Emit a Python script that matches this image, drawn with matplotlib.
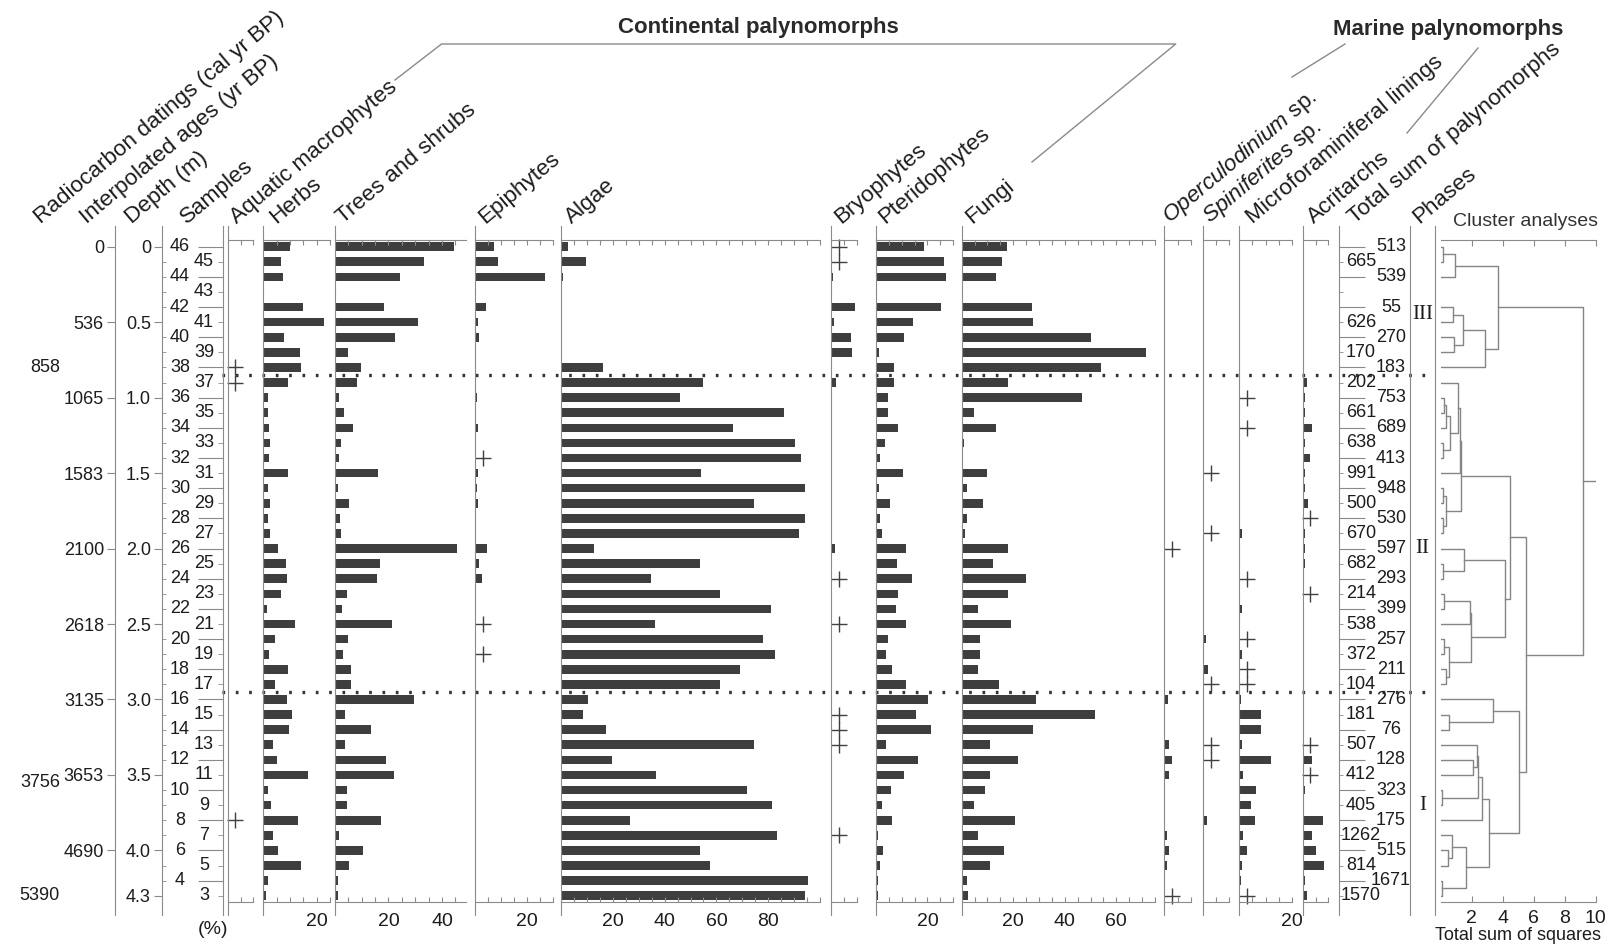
import numpy as np
import matplotlib.pyplot as plt
from matplotlib.lines import Line2D
from matplotlib import transforms

plt.rcParams['font.family'] = ['Liberation Sans', 'DejaVu Sans']
plt.rcParams['mathtext.fontset'] = 'custom'
plt.rcParams['mathtext.it'] = 'Liberation Sans:italic'
plt.rcParams['mathtext.rm'] = 'Liberation Sans'

nan = np.nan

# core samples (top to bottom) and their depths in m
samples = [46, 45, 44, 43, 42, 41, 40, 39, 38, 37, 36, 35, 34, 33, 32, 31, 30, 29, 28, 27, 26,
           25, 24, 23, 22, 21, 20, 19, 18, 17, 16, 15, 14, 13, 12, 11, 10, 9, 8, 7, 6, 5, 4, 3]
depths = [0.0, 0.1, 0.2, 0.3, 0.4, 0.5, 0.6, 0.7, 0.8, 0.9, 1.0, 1.1, 1.2, 1.3, 1.4, 1.5, 1.6,
          1.7, 1.8, 1.9, 2.0, 2.1, 2.2, 2.3, 2.4, 2.5, 2.6, 2.7, 2.8, 2.9, 3.0, 3.1, 3.2, 3.3,
          3.4, 3.5, 3.6, 3.7, 3.8, 3.9, 4.0, 4.1, 4.2, 4.3]

# chronology
age_depths = [0.0, 0.5, 1.0, 1.5, 2.0, 2.5, 3.0, 3.5, 4.0]
age_labels = ['0', '536', '1065', '1583', '2100', '2618', '3135', '3653', '4690']
c14_depths = [0.8, 3.55, 4.3]
c14_labels = ['858', '3756', '5390']
depth_ticks = [0.0, 0.5, 1.0, 1.5, 2.0, 2.5, 3.0, 3.5, 4.0, 4.3]
depth_labels = ['0', '0.5', '1.0', '1.5', '2.0', '2.5', '3.0', '3.5', '4.0', '4.3']

# percentages per sample (46 -> 3); sample 43 was not counted
aquatic = [0, 0, 0, nan, 0, 0, 0, 0, 0,
           0, 0, 0, 0, 0, 0, 0, 0, 0, 0, 0, 0,
           0, 0, 0, 0, 0, 0, 0, 0, 0,
           0, 0, 0, 0, 0, 0, 0, 0, 0, 0, 0, 0, 0, 0]
herbs = [10.1, 6.5, 7.3, nan, 14.8, 22.8, 7.7, 13.9, 14.3,
         9.2, 1.6, 1.6, 2.0, 2.5, 2.2, 9.2, 1.6, 2.5, 1.6, 2.5, 5.4,
         8.4, 8.7, 6.5, 1.3, 12.0, 4.2, 2.3, 9.2, 4.2,
         8.7, 10.6, 9.7, 3.7, 5.1, 16.7, 1.8, 2.8, 13.0, 3.7, 5.4, 14.3, 1.6, 1.0]
trees = [44.6, 33.4, 24.2, nan, 18.5, 31.1, 22.3, 4.9, 9.6,
         8.2, 1.6, 3.5, 6.8, 2.4, 1.4, 16.1, 1.1, 5.4, 1.9, 2.4, 45.6,
         16.7, 15.7, 4.4, 2.7, 21.3, 4.9, 3.0, 5.8, 5.8,
         29.7, 3.9, 13.3, 3.9, 19.0, 22.2, 4.4, 4.4, 17.1, 1.6, 10.5, 5.4, 1.1, 1.1]
epiphytes = [7.4, 8.8, 27.2, nan, 4.1, 1.3, 1.7, 0, 0,
             0, 0.6, 0, 1.0, 0, 0, 1.2, 0.6, 1.0, 0, 0, 4.5,
             1.7, 2.6, 0, 0, 0, 0, 0, 0, 0,
             0, 0, 0, 0, 0, 0, 0, 0, 0, 0, 0, 0, 0, 0]
algae = [2.6, 9.6, 0.6, nan, 0, 0.5, 0, 0, 16.3,
         55.0, 46.0, 86.2, 66.3, 90.4, 92.8, 54.1, 94.2, 74.7, 94.2, 91.8, 12.9,
         53.5, 34.6, 61.5, 81.0, 36.2, 78.1, 82.8, 69.1, 61.5,
         10.5, 8.6, 17.2, 74.7, 19.5, 36.5, 71.9, 81.4, 26.5, 83.3, 53.5, 57.7, 95.5, 94.1]
bryophytes = [0, 0, 0.9, nan, 9.2, 1.2, 7.7, 8.2, 0,
              1.9, 0, 0, 0, 0, 0, 0.4, 0, 0, 0, 0, 1.4,
              0, 0, 0, 0, 0, 0, 0, 0, 0,
              0, 0, 0, 0, 0, 0, 0, 0, 0, 0, 0, 0, 0, 0]
pteridophytes = [18.5, 26.4, 27.3, nan, 25.4, 14.5, 10.8, 1.3, 6.9,
                 6.9, 4.6, 4.6, 8.8, 3.6, 1.7, 10.4, 1.3, 5.5, 1.8, 2.3, 11.7,
                 8.3, 14.0, 8.7, 7.8, 11.7, 4.6, 4.1, 6.4, 11.7,
                 20.3, 15.4, 21.2, 4.1, 16.4, 10.8, 6.0, 2.3, 6.4, 0.8, 2.7, 1.7, 0.8, 0.8]
fungi = [17.4, 15.5, 13.5, nan, 27.4, 27.7, 50.3, 71.6, 53.9,
         17.8, 46.8, 4.9, 13.5, 1.0, 0.6, 9.7, 1.9, 8.1, 1.9, 1.4, 17.8,
         12.1, 24.9, 17.8, 6.5, 19.1, 7.2, 7.2, 6.5, 14.5,
         29.0, 51.9, 27.7, 11.0, 21.9, 11.0, 9.2, 4.9, 20.6, 6.5, 16.3, 11.0, 2.1, 2.5]
operculodinium = [0, 0, 0, nan, 0, 0, 0, 0, 0,
                  0, 0, 0, 0, 0, 0, 0, 0, 0, 0, 0, 0,
                  0, 0, 0, 0, 0, 0, 0, 0, 0,
                  1.3, 0, 0, 1.8, 2.8, 1.8, 0, 0, 0, 0.9, 1.8, 0.9, 0, 0]
spiniferites = [0, 0, 0, nan, 0, 0, 0, 0, 0,
                0, 0, 0, 0, 0, 0, 0, 0, 0, 0, 0, 0,
                0, 0, 0, 0, 0, 1.3, 0, 2.2, 0,
                0, 0, 0, 0, 0, 0, 0, 0.6, 1.8, 0.3, 0.6, 0.6, 0, 0]
microforams = [0, 0, 0, nan, 0, 0, 0, 0, 0,
               0, 0, 0, 0, 0, 0, 0, 0, 0, 0, 0.9, 0,
               0, 0, 0, 0.9, 0, 0, 0.9, 0, 0,
               0.6, 8.1, 8.1, 1.1, 12.0, 1.5, 6.4, 4.5, 6.0, 1.3, 3.0, 1.1, 0.6, 0]
acritarchs = [0, 0, 0, nan, 0, 0, 0, 0, 0,
              1.8, 0.9, 0.9, 3.8, 0.8, 2.8, 0.8, 0.8, 2.2, 0, 0.8, 0.8,
              0.9, 0, 0, 0, 0, 0, 0, 0, 0,
              0, 0, 0, 0, 3.8, 0, 0.9, 0, 7.8, 3.7, 5.1, 8.2, 0.8, 1.8]

# samples where a taxon is present at < 0.5 %
aquatic_plus = [38, 37, 8]
epiphytes_plus = [32, 21, 19]
bryophytes_plus = [46, 45, 24, 21, 15, 14, 13, 7]
operculodinium_plus = [26, 3]
spiniferites_plus = [31, 27, 17, 13, 12]
microforams_plus = [36, 34, 24, 20, 18, 17, 3]
acritarchs_plus = [28, 23, 13, 11]

totals = [513, 665, 539, None, 55, 626, 270, 170, 183,
          202, 753, 661, 689, 638, 413, 991, 948, 500, 530, 670, 597,
          682, 293, 214, 399, 538, 257, 372, 211, 104,
          276, 181, 76, 507, 128, 412, 323, 405, 175, 1262, 515, 814, 1671, 1570]

zone_bounds = [0.85, 2.95]
phase_names = ['III', 'II', 'I']
phase_depths = [0.45, 2.0, 3.7]

# CONISS merges: (node, member a, member b, total sum of squares)
cluster_merges = [
    ('m1', 46, 45, 0.1), ('m2', 'm1', 44, 0.93), ('m3', 42, 41, 0.76), ('m4', 40, 39, 0.87),
    ('m5', 'm3', 'm4', 1.4), ('m6', 'm5', 38, 2.87), ('m7', 'm2', 'm6', 3.7),
    ('b1', 36, 35, 0.2), ('b2', 'b1', 34, 0.35), ('b3', 33, 32, 0.15), ('b4', 'b2', 'b3', 0.6),
    ('b5', 37, 'b4', 1.1), ('b6', 'b5', 31, 1.25), ('b7', 30, 29, 0.1), ('b8', 28, 27, 0.15),
    ('b9', 'b7', 'b8', 0.3), ('b10', 'b6', 'b9', 1.3),
    ('a1', 25, 24, 0.1), ('a2', 26, 'a1', 1.52), ('a3', 23, 22, 0.2), ('a4', 'a3', 21, 1.85),
    ('a5', 20, 19, 0.2), ('a6', 18, 17, 0.3), ('a7', 'a5', 'a6', 0.5), ('a8', 'a4', 'a7', 1.95),
    ('a9', 'a2', 'a8', 4.13), ('a10', 'b10', 'a9', 4.45),
    ('c1', 15, 14, 0.55), ('c2', 16, 'c1', 3.37), ('c3', 12, 11, 2.1), ('c4', 13, 'c3', 2.33),
    ('c5', 10, 9, 0.05), ('c6', 'c4', 'c5', 2.4), ('c7', 'c6', 8, 2.65), ('c8', 6, 5, 0.45),
    ('c9', 7, 'c8', 0.7), ('c10', 4, 3, 0.05), ('c11', 'c9', 'c10', 1.63), ('c12', 'c7', 'c11', 3.1),
    ('c13', 'c2', 'c12', 5.07), ('d1', 'a10', 'c13', 5.5), ('root', 'm7', 'd1', 9.17),
]

# ---- layout (pixels) ----
W, H = 1610, 952
Y_TOP, Y_BOT = 240, 901.7          # top / bottom scale lines
Y0, PPM = 246.7, 150.93            # pixel row of depth 0, pixels per metre
D_TOP = (Y_TOP - Y0) / PPM
D_BOT = (Y_BOT - Y0) / PPM
L_TOP = (226 - Y0) / PPM           # vertical rules run a bit past the scales
L_BOT = (915 - Y0) / PPM
BAR = '#3e3e3e'
AXC = '#8a8a8a'
TXT = '#1c1c1c'
DENDRO = '#858585'

fig = plt.figure(figsize=(W / 100, H / 100), dpi=100)


def fx(x):
    return x / W


def fy(y):
    return 1 - y / H


def col_axes(x0, x1):
    ax = fig.add_axes([x0 / W, 1 - Y_BOT / H, (x1 - x0) / W, (Y_BOT - Y_TOP) / H])
    ax.patch.set_visible(False)
    ax.set_ylim(D_BOT, D_TOP)
    for s in ax.spines.values():
        s.set_visible(False)
        s.set_color(AXC)
    ax.set_xticks([])
    ax.set_yticks([])
    return ax


def pollen(x0, x1, xmax, values, plus=()):
    ax = col_axes(x0, x1)
    ax.set_xlim(0, xmax)
    v = np.array(values, dtype=float)
    d = np.array(depths)
    keep = np.nan_to_num(v) > 0
    ax.barh(d[keep], v[keep], height=0.057, color=BAR, linewidth=0)
    if plus:
        pd_ = [depths[samples.index(s)] for s in plus]
        ax.plot([3] * len(pd_), pd_, ls='none', marker='+', ms=11, mew=1.0,
                color='#404040', clip_on=False)
    for s in ('left', 'top', 'bottom'):
        ax.spines[s].set_visible(True)
    ax.spines['left'].set_bounds(L_BOT, L_TOP)
    ticks = np.arange(5, xmax + 0.1, 5)
    ax.set_xticks(ticks)
    ax.set_xticklabels([str(int(t)) if t in (20, 40, 60, 80) else '' for t in ticks])
    ax.tick_params(axis='x', top=True, bottom=True, direction='in', length=3.5,
                   width=0.8, color=AXC, labelsize=14, pad=8, labelcolor=TXT)
    return ax


# zone boundaries across the whole diagram
zax = col_axes(222, 1435)
zax.set_xlim(0, 1)
zax.hlines(zone_bounds, 0, 1, colors='#333333', linestyles=(0, (0.8, 3.2)), linewidth=2.4)

# interpolated ages
ax = col_axes(115, 125)
ax.spines['left'].set_visible(True)
ax.spines['left'].set_bounds(L_BOT, L_TOP)
ax.set_yticks(age_depths)
ax.set_yticklabels(age_labels)
ax.tick_params(axis='y', direction='out', length=6, color=AXC, labelsize=13, pad=2,
               labelcolor=TXT)

# radiocarbon dates, right-aligned in their own column
c14_tr = transforms.blended_transform_factory(fig.transFigure, ax.transData)
for dd, lab in zip(c14_depths, c14_labels):
    fig.text(fx(60), dd, lab, transform=c14_tr, ha='right', va='center', fontsize=13,
             color=TXT)

# depth scale
ax = col_axes(162, 170)
ax.spines['left'].set_visible(True)
ax.spines['left'].set_bounds(L_BOT, L_TOP)
ax.set_yticks(depth_ticks)
ax.set_yticklabels(depth_labels)
ax.set_yticks(depths, minor=True)
ax.tick_params(axis='y', which='major', direction='out', length=6, color=AXC,
               labelsize=13, pad=2, labelcolor=TXT)
ax.tick_params(axis='y', which='minor', direction='in', length=3, color=AXC)

# sample numbers
sax = col_axes(160, 223.3)
sax.set_xlim(160, 223.3)
sax.spines['right'].set_visible(True)
sax.spines['right'].set_bounds(L_BOT, L_TOP)
sax.yaxis.set_ticks_position('right')
even = [d for s, d in zip(samples, depths) if s % 2 == 0]
odd = [d for s, d in zip(samples, depths) if s % 2 == 1]
sax.set_yticks(even)
sax.set_yticks(odd, minor=True)
sax.tick_params(axis='y', which='major', direction='in', length=18, color=AXC,
                labelright=False)
sax.tick_params(axis='y', which='minor', direction='in', length=3.5, color=AXC)
for s, d in zip(samples, depths):
    sax.text(180 if s % 2 == 0 else 204, d, str(s), ha='center', va='center',
             fontsize=13, color=TXT)

# percentage diagrams
pollen(227.7, 253.3, 10, aquatic, aquatic_plus)
pollen(263.3, 330, 25, herbs)
pollen(335, 466, 49, trees)
pollen(475, 552.7, 30, epiphytes, epiphytes_plus)
pollen(561, 820, 100, algae)
pollen(831, 857, 10, bryophytes, bryophytes_plus)
pollen(875.7, 953.3, 30, pteridophytes)
pollen(961.7, 1155, 75, fungi)
pollen(1164.3, 1190.7, 10, operculodinium, operculodinium_plus)
pollen(1202.7, 1229, 10, spiniferites, spiniferites_plus)
pollen(1239.3, 1291.7, 20, microforams, microforams_plus)
pollen(1302.7, 1328.3, 10, acritarchs, acritarchs_plus)

# total sums
tax = col_axes(1339, 1409)
tax.set_xlim(1339, 1409)
tax.spines['left'].set_visible(True)
tax.spines['left'].set_bounds(L_BOT, L_TOP)
tax.set_yticks(even)
tax.set_yticks(odd, minor=True)
tax.tick_params(axis='y', which='major', direction='in', length=19, color=AXC, labelleft=False)
tax.tick_params(axis='y', which='minor', direction='in', length=3, color=AXC)
for s, d, n in zip(samples, depths, totals):
    if n is not None:
        tax.text(1391 if s % 2 == 0 else 1361, d, str(n), ha='center', va='center',
                 fontsize=13, color=TXT)

# phases
pax = col_axes(1410, 1435)
pax.set_xlim(0, 1)
for s in ('left', 'right'):
    pax.spines[s].set_visible(True)
    pax.spines[s].set_bounds(L_BOT, L_TOP)
for name, d in zip(phase_names, phase_depths):
    pax.text(0.5, d, name, ha='center', va='center', fontsize=15,
             family='Liberation Serif', color=TXT)

# cluster dendrogram
kax = col_axes(1441, 1595.5)
kax.set_xlim(0, 10)
for s in ('top', 'bottom'):
    kax.spines[s].set_visible(True)
kax.set_xticks([2, 4, 6, 8, 10])
kax.tick_params(axis='x', top=True, bottom=True, direction='in', length=4, color=AXC,
                labelsize=14, pad=6, labelcolor=TXT)
kax.set_xlabel('Total sum of squares', fontsize=13, labelpad=0, color=TXT)
ypos = {s: d for s, d in zip(samples, depths)}
xpos = {s: 0.0 for s in samples}
for node, a, b, h in cluster_merges:
    kax.plot([xpos[a], h, h, xpos[b]], [ypos[a], ypos[a], ypos[b], ypos[b]],
             color=DENDRO, lw=1.0)
    ypos[node] = (ypos[a] + ypos[b]) / 2
    xpos[node] = h
kax.plot([xpos['root'], 10], [ypos['root']] * 2, color=DENDRO, lw=1.0)

# column headers
headers = [
    ('Radiocarbon datings (cal yr BP)', 41), ('Interpolated ages (yr BP)', 87),
    ('Depth (m)', 132), ('Samples', 187), ('Aquatic macrophytes', 237), ('Herbs', 276),
    ('Trees and shrubs', 343), ('Epiphytes', 485), ('Algae', 572), ('Bryophytes', 841),
    ('Pteridophytes', 885), ('Fungi', 972), (r'$\mathit{Operculodinium}$ sp.', 1170),
    (r'$\mathit{Spiniferites}$ sp.', 1210), ('Microforaminiferal linings', 1253),
    ('Acritarchs', 1314), ('Total sum of palynomorphs', 1355), ('Phases', 1419),
]
for text, x in headers:
    fig.text(fx(x), fy(224), text, rotation=40, rotation_mode='anchor', ha='left',
             va='baseline', fontsize=16.2, color=TXT)

fig.text(fx(1525), fy(221), 'Cluster analyses', ha='center', va='center', fontsize=14,
         color='#333333')
fig.text(fx(213), fy(930), '(%)', ha='center', va='center', fontsize=14, color=TXT)
fig.text(fx(758), fy(27), 'Continental palynomorphs', ha='center', va='center',
         fontsize=16, fontweight='bold', color='#2a2a2a')
fig.text(fx(1448), fy(29), 'Marine palynomorphs', ha='center', va='center',
         fontsize=16, fontweight='bold', color='#2a2a2a')

brackets = [
    [(395, 80), (441.5, 44), (1175.7, 44), (1032, 162)],
    [(1292, 77), (1345, 44)],
    [(1407, 133), (1478, 48)],
]
for pts in brackets:
    xs, ys = zip(*pts)
    fig.add_artist(Line2D([fx(x) for x in xs], [fy(y) for y in ys], color='#8a8a8a', lw=1.0))

fig.savefig('out.png', dpi=100)
